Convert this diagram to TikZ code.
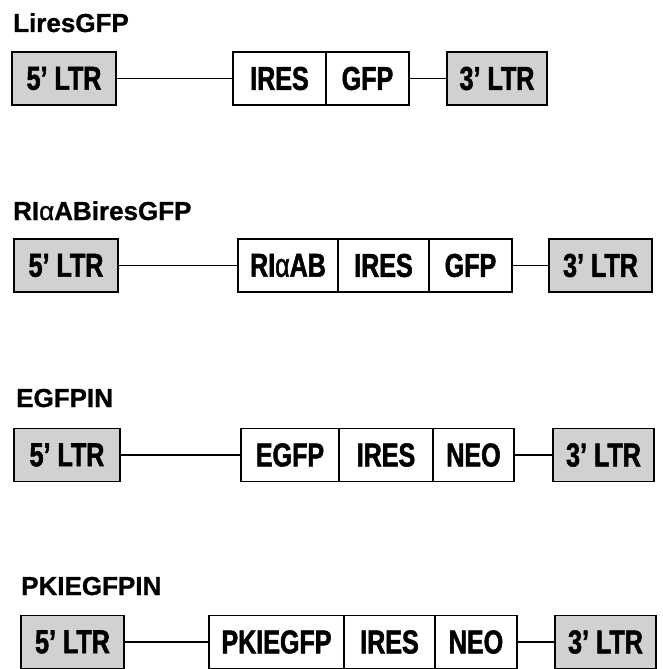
\documentclass[tikz,border=0pt]{standalone}
\usepackage{fontspec}
\setmainfont{Liberation Sans}
\newfontfamily\partfont[FakeStretch=0.76,FakeBold=1.6]{Liberation Sans}
\newfontfamily\titlefont[FakeBold=1]{Liberation Sans}
\usetikzlibrary{positioning}
\tikzset{
  x=1pt, y=-1pt,
  part/.style = {draw, line width=1.4pt, minimum height=53pt, inner sep=0pt,
    outer sep=0pt, font=\partfont\fontsize{33}{36}\selectfont\bfseries},
  ltr/.style = {part, fill=black!18},
  title/.style = {anchor=base west, inner sep=0pt,
    font=\titlefont\fontsize{26}{30}\selectfont\bfseries},
  link/.style = {line width=1.2pt}
}
\newcommand{\ra}{{\mdseries α}}

\begin{document}
\begin{tikzpicture}
  \useasboundingbox (0,0) rectangle (662,669);
  % LiresGFP
  \node[title] (t1) at (13,32) {LiresGFP};
  \node[ltr,anchor=west,minimum width=104pt] (a5) at (12,78.5) {5’ LTR};
  \node[part,anchor=west,minimum width=93pt] (a1) at (233,78.5) {IRES};
  \node[part,right=0pt of a1,minimum width=83pt] (a2) {GFP};
  \node[ltr,anchor=west,minimum width=100pt] (a3) at (447,78.5) {3’ LTR};
  \draw[link] (a5) -- (a1);
  \draw[link] (a2) -- (a3);
  % RIaABiresGFP
  \node[title] (t2) at (13,220) {RI\ra ABiresGFP};
  \node[ltr,anchor=west,minimum width=104pt] (b5) at (14,265.5) {5’ LTR};
  \node[part,anchor=west,minimum width=100pt] (b1) at (238,265.5) {RI\ra AB};
  \node[part,right=0pt of b1,minimum width=91pt] (b2) {IRES};
  \node[part,right=0pt of b2,minimum width=83pt] (b3) {GFP};
  \node[ltr,anchor=west,minimum width=103pt] (b4) at (549,265.5) {3’ LTR};
  \draw[link] (b5) -- (b1);
  \draw[link] (b3) -- (b4);
  % EGFPIN
  \node[title] (t3) at (16,407) {EGFPIN};
  \node[ltr,anchor=west,minimum width=106pt] (c5) at (14,455) {5’ LTR};
  \node[part,anchor=west,minimum width=98pt] (c1) at (241,455) {EGFP};
  \node[part,right=0pt of c1,minimum width=94pt] (c2) {IRES};
  \node[part,right=0pt of c2,minimum width=81pt] (c3) {NEO};
  \node[ltr,anchor=west,minimum width=101pt] (c4) at (553,455) {3’ LTR};
  \draw[link] (c5) -- (c1);
  \draw[link] (c3) -- (c4);
  % PKIEGFPIN
  \node[title] (t4) at (21,595) {PKIEGFPIN};
  \node[ltr,anchor=west,minimum width=103pt] (d5) at (21,642) {5’ LTR};
  \node[part,anchor=west,minimum width=135pt] (d1) at (209,642) {PKIEGFP};
  \node[part,right=0pt of d1,minimum width=91pt] (d2) {IRES};
  \node[part,right=0pt of d2,minimum width=82pt] (d3) {NEO};
  \node[ltr,anchor=west,minimum width=101pt] (d4) at (555,642) {3’ LTR};
  \draw[link] (d5) -- (d1);
  \draw[link] (d3) -- (d4);
\end{tikzpicture}
\end{document}
